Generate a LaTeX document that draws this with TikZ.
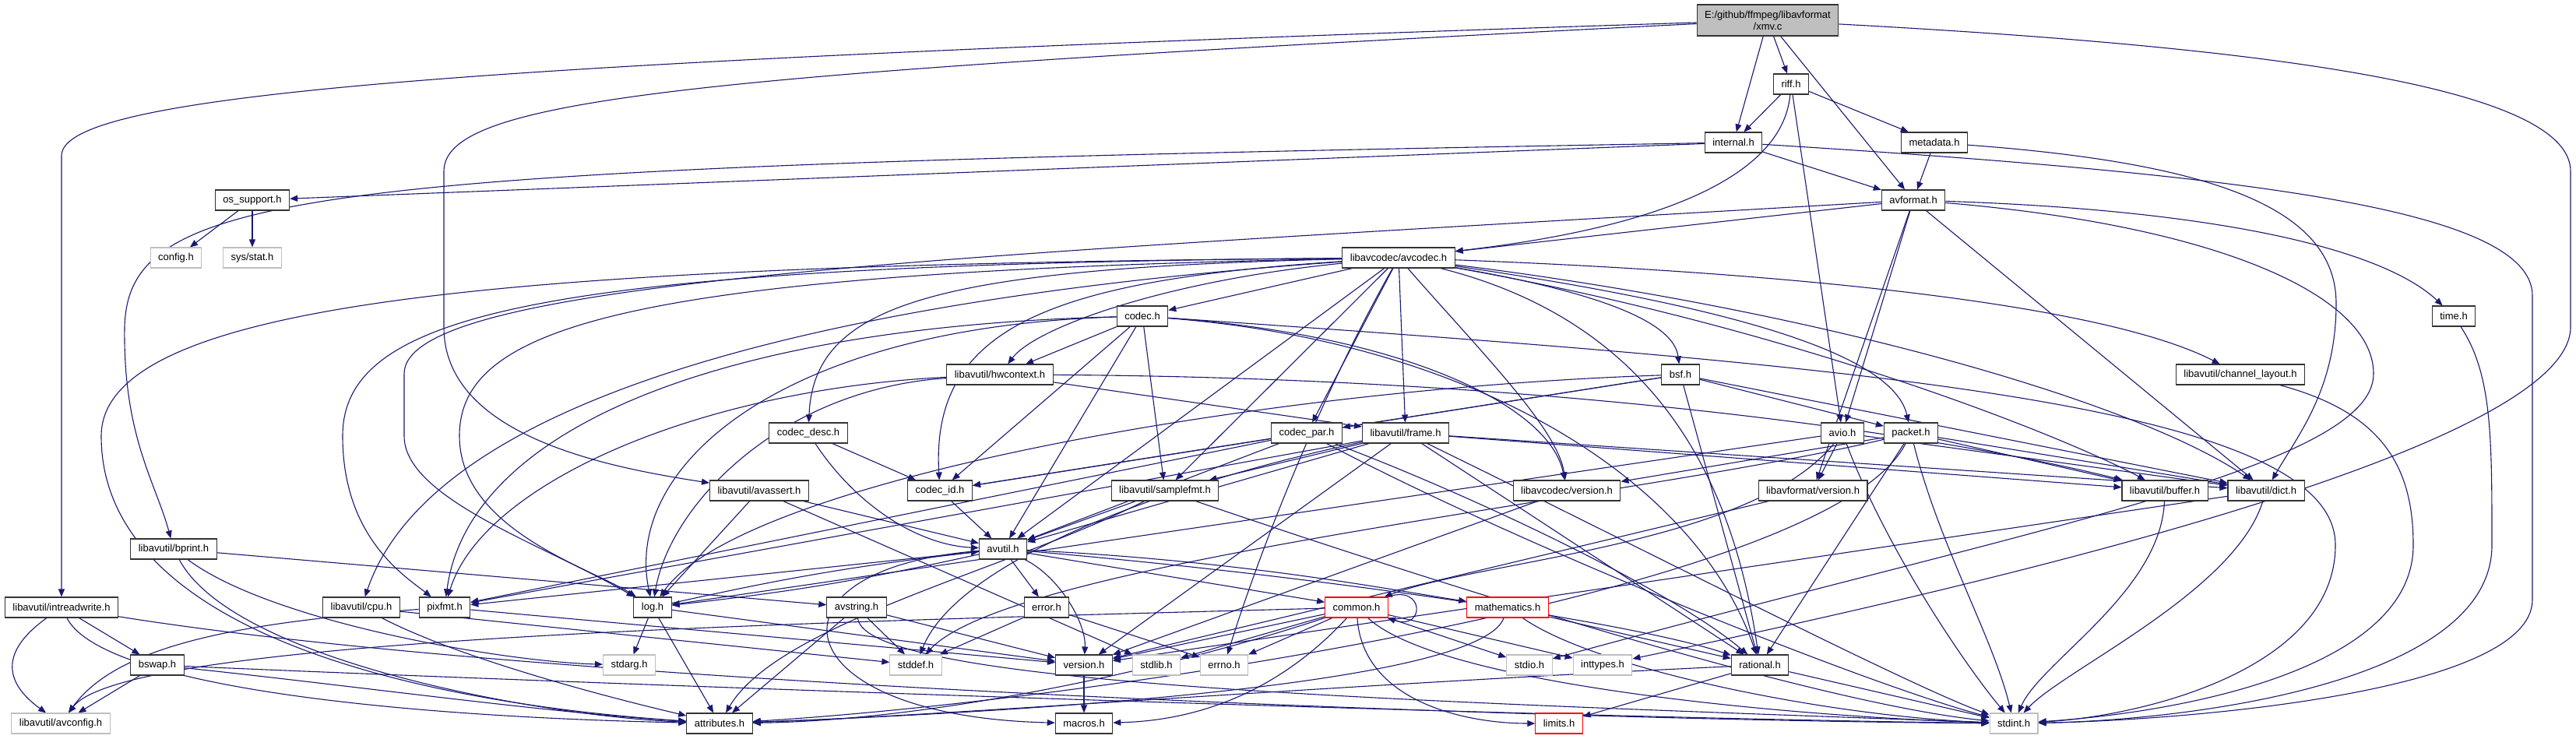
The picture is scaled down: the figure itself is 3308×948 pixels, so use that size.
\documentclass[tikz,border=0pt]{standalone}
\usepackage{fontspec}
\setmainfont{Liberation Sans}
\usepackage{xcolor}
\usepackage{tikz}
\usetikzlibrary{arrows.meta, backgrounds}
\definecolor{midnight}{HTML}{191970}

\begin{document}
\begin{tikzpicture}[
        x=1pt, y=1pt,
        file/.style={draw=black!80, line width=1.1pt, fill=white, minimum height=26pt, inner xsep=10pt, inner ysep=0pt, font=\fontsize{13}{15}\selectfont},
        sysfile/.style={file, draw=black!25},
        truncfile/.style={file, draw=red},
        rootfile/.style={file, fill=black!25, align=center, minimum height=40pt},
        edge/.style={draw=midnight, line width=1.1pt, -{Triangle[length=10pt,width=8pt]}}
    ]
        \useasboundingbox (0,0) rectangle (3308,-948);

        % Nodes
        \node[rootfile] (xmv) at (2270,-26) {E:/github/ffmpeg/libavformat\\/xmv.c};
        \node[file] (riff) at (2300,-108) {riff.h};
        \node[file] (internal) at (2226,-183) {internal.h};
        \node[file] (metadata) at (2484,-183) {metadata.h};
        \node[file] (avformat) at (2457,-257) {avformat.h};
        \node[file] (ossupport) at (324,-257) {os\_support.h};
        \node[sysfile] (config) at (226,-331) {config.h};
        \node[sysfile] (sysstat) at (324,-331) {sys/stat.h};
        \node[file] (avcodec) at (1796,-331) {libavcodec/avcodec.h};
        \node[file] (timeh) at (3151,-406) {time.h};
        \node[file] (codec) at (1467,-406) {codec.h};
        \node[file] (hwcontext) at (1284,-481) {libavutil/hwcontext.h};
        \node[file] (bsf) at (2158,-481) {bsf.h};
        \node[file] (chlayout) at (2877,-481) {libavutil/channel\_layout.h};
        \node[file] (codecdesc) at (1038,-556) {codec\_desc.h};
        \node[file] (codecpar) at (1678,-556) {codec\_par.h};
        \node[file] (frame) at (1805,-556) {libavutil/frame.h};
        \node[file] (avio) at (2366,-556) {avio.h};
        \node[file] (packet) at (2454,-556) {packet.h};
        \node[file] (avassert) at (975,-630) {libavutil/avassert.h};
        \node[file] (codecid) at (1207,-630) {codec\_id.h};
        \node[file] (samplefmt) at (1496,-630) {libavutil/samplefmt.h};
        \node[file] (lavcversion) at (2012,-630) {libavcodec/version.h};
        \node[file] (lavfversion) at (2328,-630) {libavformat/version.h};
        \node[file] (buffer) at (2780,-630) {libavutil/buffer.h};
        \node[file] (dict) at (2910,-630) {libavutil/dict.h};
        \node[file] (bprint) at (223,-705) {libavutil/bprint.h};
        \node[file] (avutil) at (1288,-705) {avutil.h};
        \node[file] (intreadwrite) at (79,-780) {libavutil/intreadwrite.h};
        \node[file] (cpu) at (464,-780) {libavutil/cpu.h};
        \node[file] (pixfmt) at (571,-780) {pixfmt.h};
        \node[file] (log) at (838,-780) {log.h};
        \node[file] (avstring) at (1100,-780) {avstring.h};
        \node[file] (error) at (1344,-780) {error.h};
        \node[truncfile] (common) at (1742,-780) {common.h};
        \node[truncfile] (mathematics) at (1936,-780) {mathematics.h};
        \node[file] (bswap) at (202,-854) {bswap.h};
        \node[sysfile] (stdarg) at (808,-854) {stdarg.h};
        \node[sysfile] (stddef) at (1176,-854) {stddef.h};
        \node[file] (version) at (1392,-854) {version.h};
        \node[sysfile] (stdlib) at (1485,-854) {stdlib.h};
        \node[sysfile] (errno) at (1572,-854) {errno.h};
        \node[sysfile] (stdio) at (1964,-854) {stdio.h};
        \node[sysfile] (inttypes) at (2058,-854) {inttypes.h};
        \node[file] (rational) at (2260,-854) {rational.h};
        \node[sysfile] (avconfig) at (78,-929) {libavutil/avconfig.h};
        \node[file] (attributes) at (924,-929) {attributes.h};
        \node[file] (macros) at (1392,-929) {macros.h};
        \node[truncfile] (limits) at (2002,-929) {limits.h};
        \node[sysfile] (stdint) at (2586,-929) {stdint.h};

        % Edges
        \begin{scope}[on background layer]
        \draw[edge] (xmv) .. controls (600,-80) and (79,-120) .. (79,-200) -- (intreadwrite);
        \draw[edge] (xmv) .. controls (900,-95) and (570,-125) .. (570,-220) -- (570,-420) .. controls (570,-560) and (780,-600) .. (avassert);
        \draw[edge] (xmv) -- (internal);
        \draw[edge] (xmv) -- (riff);
        \draw[edge] (xmv) -- (avformat);
        \draw[edge] (xmv) .. controls (2900,-60) and (3301,-110) .. (3301,-220) -- (3301,-420) .. controls (3301,-560) and (2700,-720) .. (inttypes);

        \draw[edge] (riff) -- (internal);
        \draw[edge] (riff) -- (metadata);
        \draw[edge] (riff) .. controls (2290,-220) and (2150,-290) .. (avcodec);
        \draw[edge] (riff) -- (avio);

        \draw[edge] (internal) -- (avformat);
        \draw[edge] (internal) -- (ossupport);
        \draw[edge] (internal) .. controls (400,-215) and (165,-240) .. (160,-420) .. controls (158,-560) and (200,-620) .. (bprint);
        \draw[edge] (internal) .. controls (2900,-225) and (3252,-270) .. (3252,-380) -- (3252,-770) .. controls (3252,-890) and (2800,-925) .. (stdint);

        \draw[edge] (metadata) -- (avformat);
        \draw[edge] (metadata) .. controls (2850,-210) and (3000,-270) .. (3000,-390) .. controls (3000,-500) and (2950,-560) .. (dict);

        \draw[edge] (ossupport) -- (config);
        \draw[edge] (ossupport) -- (sysstat);

        \draw[edge] (avformat) .. controls (2850,-270) and (3060,-320) .. (timeh);
        \draw[edge] (avformat) .. controls (2850,-290) and (3048,-380) .. (3048,-480) .. controls (3048,-600) and (2600,-680) .. (stdio);
        \draw[edge] (avformat) -- (avcodec);
        \draw[edge] (avformat) -- (dict);
        \draw[edge] (avformat) -- (avio);
        \draw[edge] (avformat) -- (lavfversion);
        \draw[edge] (avformat) .. controls (1200,-330) and (519,-360) .. (519,-480) -- (519,-560) .. controls (519,-640) and (700,-700) .. (log);

        \draw[edge] (avcodec) .. controls (1700,-500) and (1620,-700) .. (errno);
        \draw[edge] (avcodec) -- (samplefmt);
        \draw[edge] (avcodec) .. controls (700,-340) and (130,-380) .. (130,-560) .. controls (130,-800) and (500,-900) .. (attributes);
        \draw[edge] (avcodec) -- (avutil);
        \draw[edge] (avcodec) .. controls (2300,-420) and (2650,-560) .. (buffer);
        \draw[edge] (avcodec) .. controls (1100,-380) and (560,-500) .. (cpu);
        \draw[edge] (avcodec) .. controls (2300,-350) and (2700,-390) .. (chlayout);
        \draw[edge] (avcodec) .. controls (2350,-400) and (2750,-520) .. (dict);
        \draw[edge] (avcodec) -- (frame);
        \draw[edge] (avcodec) .. controls (1500,-360) and (1330,-420) .. (hwcontext);
        \draw[edge] (avcodec) .. controls (800,-350) and (590,-420) .. (590,-560) .. controls (590,-680) and (760,-730) .. (log);
        \draw[edge] (avcodec) .. controls (700,-340) and (440,-400) .. (440,-560) .. controls (440,-690) and (520,-740) .. (pixfmt);
        \draw[edge] (avcodec) .. controls (2150,-420) and (2230,-650) .. (rational);
        \draw[edge] (avcodec) .. controls (2080,-380) and (2150,-420) .. (bsf);
        \draw[edge] (avcodec) -- (codec);
        \draw[edge] (avcodec) .. controls (1200,-345) and (1045,-390) .. (codecdesc);
        \draw[edge] (avcodec) -- (codecpar);
        \draw[edge] (avcodec) .. controls (1350,-360) and (1195,-420) .. (codecid);
        \draw[edge] (avcodec) .. controls (2200,-390) and (2430,-450) .. (packet);
        \draw[edge] (avcodec) .. controls (1900,-450) and (2000,-550) .. (lavcversion);

        \draw[edge] (codec) .. controls (2400,-470) and (2999,-520) .. (2999,-700) .. controls (2999,-860) and (2750,-920) .. (stdint);
        \draw[edge] (codec) -- (avutil);
        \draw[edge] (codec) -- (hwcontext);
        \draw[edge] (codec) .. controls (1000,-420) and (800,-600) .. (log);
        \draw[edge] (codec) .. controls (900,-420) and (600,-560) .. (pixfmt);
        \draw[edge] (codec) .. controls (1900,-440) and (2180,-620) .. (rational);
        \draw[edge] (codec) -- (samplefmt);
        \draw[edge] (codec) -- (codecid);
        \draw[edge] (codec) .. controls (1800,-430) and (1990,-520) .. (lavcversion);

        \draw[edge] (hwcontext) .. controls (2000,-485) and (2500,-560) .. (buffer);
        \draw[edge] (hwcontext) -- (frame);
        \draw[edge] (hwcontext) .. controls (1000,-500) and (860,-650) .. (log);
        \draw[edge] (hwcontext) .. controls (900,-500) and (620,-620) .. (pixfmt);

        \draw[edge] (bsf) -- (dict);
        \draw[edge] (bsf) .. controls (1600,-500) and (950,-620) .. (log);
        \draw[edge] (bsf) -- (rational);
        \draw[edge] (bsf) -- (codecid);
        \draw[edge] (bsf) -- (codecpar);
        \draw[edge] (bsf) -- (packet);

        \draw[edge] (chlayout) .. controls (3060,-530) and (3099,-600) .. (3099,-700) .. controls (3099,-860) and (2800,-915) .. (stdint);
        \draw[edge] (timeh) .. controls (3200,-480) and (3200,-560) .. (3200,-700) .. controls (3200,-880) and (2800,-925) .. (stdint);

        \draw[edge] (codecdesc) .. controls (1100,-650) and (1180,-700) .. (avutil);
        \draw[edge] (codecdesc) -- (codecid);

        \draw[edge] (codecpar) .. controls (1950,-700) and (2400,-880) .. (stdint);
        \draw[edge] (codecpar) -- (avutil);
        \draw[edge] (codecpar) .. controls (1900,-640) and (2150,-760) .. (rational);
        \draw[edge] (codecpar) -- (pixfmt);
        \draw[edge] (codecpar) -- (codecid);

        \draw[edge] (frame) .. controls (1500,-620) and (1230,-720) .. (stddef);
        \draw[edge] (frame) .. controls (2100,-700) and (2450,-880) .. (stdint);
        \draw[edge] (frame) -- (avutil);
        \draw[edge] (frame) -- (buffer);
        \draw[edge] (frame) -- (dict);
        \draw[edge] (frame) -- (rational);
        \draw[edge] (frame) -- (samplefmt);
        \draw[edge] (frame) -- (pixfmt);
        \draw[edge] (frame) -- (version);

        \draw[edge] (avio) .. controls (2420,-700) and (2520,-850) .. (stdint);
        \draw[edge] (avio) .. controls (2250,-700) and (1900,-720) .. (common);
        \draw[edge] (avio) -- (dict);
        \draw[edge] (avio) -- (log);
        \draw[edge] (avio) -- (lavfversion);

        \draw[edge] (packet) .. controls (2100,-640) and (1300,-720) .. (stddef);
        \draw[edge] (packet) .. controls (2490,-700) and (2560,-820) .. (stdint);
        \draw[edge] (packet) .. controls (2350,-760) and (1400,-900) .. (attributes);
        \draw[edge] (packet) -- (buffer);
        \draw[edge] (packet) -- (dict);
        \draw[edge] (packet) -- (rational);
        \draw[edge] (packet) -- (lavcversion);

        \draw[edge] (lavcversion) -- (version);
        \draw[edge] (lavfversion) -- (version);

        \draw[edge] (avassert) -- (stdlib);
        \draw[edge] (avassert) -- (avutil);
        \draw[edge] (avassert) -- (log);

        \draw[edge] (samplefmt) .. controls (1700,-700) and (2300,-900) .. (stdint);
        \draw[edge] (samplefmt) -- (avutil);
        \draw[edge] (samplefmt) .. controls (1300,-730) and (1000,-800) .. (attributes);

        \draw[edge] (codecid) -- (avutil);

        \draw[edge] (buffer) .. controls (2775,-760) and (2620,-850) .. (stdint);
        \draw[edge] (dict) .. controls (2870,-760) and (2650,-860) .. (stdint);
        \draw[edge] (dict) -- (version);

        \draw[edge] (bprint) .. controls (350,-800) and (650,-850) .. (stdarg);
        \draw[edge] (bprint) .. controls (300,-850) and (700,-920) .. (attributes);
        \draw[edge] (bprint) -- (avstring);

        \draw[edge] (intreadwrite) .. controls (700,-880) and (2000,-925) .. (stdint);
        \draw[edge] (intreadwrite) .. controls (-5,-840) and (10,-880) .. (avconfig);
        \draw[edge] (intreadwrite) .. controls (130,-880) and (500,-920) .. (attributes);
        \draw[edge] (intreadwrite) -- (bswap);

        \draw[edge] (cpu) -- (stddef);
        \draw[edge] (cpu) .. controls (600,-850) and (800,-900) .. (attributes);

        \draw[edge] (pixfmt) .. controls (300,-800) and (150,-830) .. (avconfig);
        \draw[edge] (pixfmt) -- (version);

        \draw[edge] (log) -- (stdarg);
        \draw[edge] (log) to[bend left=3] (avutil);
        \draw[edge] (log) -- (attributes);
        \draw[edge] (log) -- (version);

        \draw[edge] (avstring) -- (stddef);
        \draw[edge] (avstring) .. controls (1110,-880) and (1800,-900) .. (stdint);
        \draw[edge] (avstring) -- (attributes);
        \draw[edge] (avstring) -- (version);

        \draw[edge] (avutil) -- (common);
        \draw[edge] (avutil) -- (error);
        \draw[edge] (avutil) .. controls (1700,-740) and (2100,-800) .. (rational);
        \draw[edge] (avutil) .. controls (1360,-740) and (1395,-800) .. (version);
        \draw[edge] (avutil) .. controls (970,-730) and (1000,-920) .. (macros);
        \draw[edge] (avutil) .. controls (1600,-720) and (1800,-760) .. (mathematics);
        \draw[edge] (avutil) to[bend left=3] (log);
        \draw[edge] (avutil) -- (pixfmt);

        \draw[edge] (error) -- (errno);
        \draw[edge] (error) -- (stddef);

        \draw[edge] (version) -- (macros);

        \draw[edge] (common) -- (errno);
        \draw[edge] (common) -- (inttypes);
        \draw[edge] (common) .. controls (1750,-900) and (1880,-929) .. (limits);
        \draw[edge] (common) .. controls (1850,-880) and (2300,-920) .. (stdint);
        \draw[edge] (common) -- (stdio);
        \draw[edge] (common) -- (stdlib);
        \draw[edge] (common) .. controls (1500,-860) and (1200,-925) .. (attributes);
        \draw[edge] (common) .. controls (1650,-880) and (1550,-925) .. (macros);
        \draw[edge] (common) -- (version);
        \draw[edge] (common) .. controls (1000,-800) and (160,-820) .. (avconfig);
        \draw[edge] (common) .. controls (1830,-750) and (1830,-810) .. (common);

        \draw[edge] (mathematics) .. controls (2050,-860) and (2350,-920) .. (stdint);
        \draw[edge] (mathematics) .. controls (1900,-880) and (1300,-915) .. (attributes);
        \draw[edge] (mathematics) -- (rational);

        \draw[edge] (rational) -- (stdint);
        \draw[edge] (rational) -- (limits);
        \draw[edge] (rational) .. controls (1700,-880) and (1200,-920) .. (attributes);

        \draw[edge] (bswap) .. controls (800,-880) and (2000,-922) .. (stdint);
        \draw[edge] (bswap) -- (avconfig);
        \draw[edge] (bswap) .. controls (450,-880) and (700,-915) .. (attributes);
        \end{scope}
    \end{tikzpicture}
\end{document}
